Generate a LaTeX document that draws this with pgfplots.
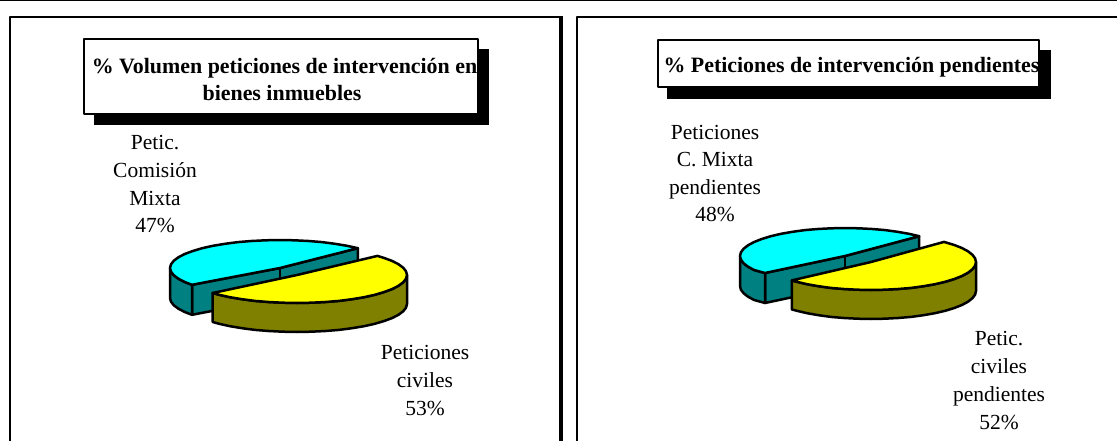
\documentclass[border=0pt]{standalone}
\usepackage{pgfplots}
\pgfplotsset{compat=1.18}
\usepackage{fontspec}
\setmainfont{Liberation Serif}
\definecolor{pcyan}{RGB}{0,255,255}
\definecolor{pteal}{RGB}{0,128,128}
\definecolor{pyellow}{RGB}{255,255,0}
\definecolor{polive}{RGB}{128,128,0}
\newcommand{\lab}[3]{\node[anchor=base,inner sep=0pt,text=black,font=\fontsize{21.5}{25}\selectfont] at (axis cs:#1,#2) {#3};}
\newcommand{\ttl}[3]{\node[anchor=base,inner sep=0pt,text=black,font=\fontsize{21.9}{25}\selectfont\bfseries] at (axis cs:#1,#2) {#3};}
\begin{document}
\begin{tikzpicture}
\begin{axis}[
  scale only axis, width=1117pt, height=441pt,
  xmin=0, xmax=1117, ymin=0, ymax=441, y dir=reverse,
  hide axis, clip=true,
  every axis plot/.append style={line join=round, line cap=butt, mark=none},
]
% frame
\addplot[black,line width=1.5pt] coordinates {(0,0.5) (1117,0.5)};
\addplot[black,line width=2pt] coordinates {(10,441) (10,17) (561,17)};
\addplot[black,line width=4pt] coordinates {(561,16) (561,441)};
\addplot[black,line width=2pt] coordinates {(577,441) (577,17) (1117,17)};
% title boxes
\addplot[fill=black,draw=none] coordinates {(94,49.5) (488.5,49.5) (488.5,125) (94,125)} -- cycle;
\addplot[fill=white,draw=black,line width=2pt] coordinates {(84,39.5) (478,39.5) (478,114.5) (84,114.5)} -- cycle;
\addplot[fill=black,draw=none] coordinates {(667,50) (1050.5,50) (1050.5,98.7) (667,98.7)} -- cycle;
\addplot[fill=white,draw=black,line width=2pt] coordinates {(657.7,40) (1039,40) (1039,87) (657.7,87)} -- cycle;
\ttl{284.5}{73.3}{\% Volumen peticiones de intervención en}
\ttl{282}{100.7}{bienes inmuebles}
\ttl{851.5}{72.7}{\% Peticiones de intervención pendientes}
% pie 1: cut faces, outer wall, top of the smaller slice
\addplot[fill=pteal,draw=black,line width=2.5pt] coordinates {(192,284.8) (280,268) (357.8,248.2) (357.8,278.2) (280,298) (192,314.8)} -- cycle;
\addplot[draw=black,line width=2pt] coordinates {(280,268) (280,298)};
\addplot[fill=pteal,draw=black,line width=2.5pt] coordinates {(170,268) (171,271.7) (173.7,275.2) (178.4,278.7) (184.7,282) (192,284.8) (192,314.8) (184.7,312) (178.4,308.7) (173.7,305.2) (171,301.7) (170,298)} -- cycle;
\addplot[fill=pcyan,draw=black,line width=2.5pt] coordinates {(357.8,248.2) (347,245.8) (335,243.8) (322.1,242.1) (308.5,241) (294.4,240.3) (280,240) (265.6,240.3) (251.5,241) (237.9,242.1) (225,243.8) (213,245.8) (202.2,248.2) (192.8,251) (184.7,254) (178.4,257.3) (173.7,260.8) (171,264.3) (170,268) (171,271.7) (173.7,275.2) (178.4,278.7) (184.7,282) (192,284.8) (280,268)} -- cycle;
% pie 1: larger slice
\addplot[fill=polive,draw=black,line width=2.5pt] coordinates {(407,275) (406,278.7) (403.3,282.2) (398.6,285.7) (392.3,289) (384.2,292) (374.8,294.8) (364,297.2) (352,299.2) (339.1,300.9) (325.5,302) (311.4,302.7) (297,303) (282.6,302.7) (268.5,302) (254.9,300.9) (242,299.2) (230,297.2) (219.2,294.8) (212.7,293) (212.7,322) (219.2,323.8) (230,326.2) (242,328.2) (254.9,329.9) (268.5,331) (282.6,331.7) (297,332) (311.4,331.7) (325.5,331) (339.1,329.9) (352,328.2) (364,326.2) (374.8,323.8) (384.2,321) (392.3,318) (398.6,314.7) (403.3,311.2) (406,307.7) (407,304)} -- cycle;
\addplot[fill=pyellow,draw=black,line width=2.5pt] coordinates {(377.4,255.9) (384.2,258) (392.3,261) (398.6,264.3) (403.3,267.8) (406,271.3) (407,275) (406,278.7) (403.3,282.2) (398.6,285.7) (392.3,289) (384.2,292) (374.8,294.8) (364,297.2) (352,299.2) (339.1,300.9) (325.5,302) (311.4,302.7) (297,303) (282.6,302.7) (268.5,302) (254.9,300.9) (242,299.2) (230,297.2) (219.2,294.8) (212.7,293) (297,275)} -- cycle;
% pie 2: cut faces, outer wall, top of the smaller slice
\addplot[fill=pteal,draw=black,line width=2.5pt] coordinates {(765,273) (845,256) (919.2,236.2) (919.2,266.2) (845,286) (765,303)} -- cycle;
\addplot[draw=black,line width=2pt] coordinates {(845,256) (845,286)};
\addplot[fill=pteal,draw=black,line width=2.5pt] coordinates {(740,256) (740.9,259.7) (743.6,263.2) (748,266.7) (754.1,270) (765,273) (765,303) (754.1,300) (748,296.7) (743.6,293.2) (740.9,289.7) (740,286)} -- cycle;
\addplot[fill=pcyan,draw=black,line width=2.5pt] coordinates {(919.2,236.2) (908.9,233.8) (897.5,231.8) (885.2,230.1) (872.2,229) (858.8,228.3) (845,228) (831.2,228.3) (817.8,229) (804.8,230.1) (792.5,231.8) (781.1,233.8) (770.8,236.2) (761.7,239) (754.1,242) (748,245.3) (743.6,248.8) (740.9,252.3) (740,256) (740.9,259.7) (743.6,263.2) (748,266.7) (754.1,270) (765,273) (845,256)} -- cycle;
% pie 2: larger slice
\addplot[fill=polive,draw=black,line width=2.5pt] coordinates {(976,262) (975.1,265.7) (972.4,269.2) (968,272.7) (961.9,276) (954.3,279) (945.2,281.8) (934.9,284.2) (923.5,286.2) (911.2,287.9) (898.2,289) (884.8,289.7) (871,290) (857.2,289.7) (843.8,289) (830.8,287.9) (818.5,286.2) (807.1,284.2) (796.8,281.8) (791.8,280.4) (791.8,309.4) (796.8,310.8) (807.1,313.2) (818.5,315.2) (830.8,316.9) (843.8,318) (857.2,318.7) (871,319) (884.8,318.7) (898.2,318) (911.2,316.9) (923.5,315.2) (934.9,313.2) (945.2,310.8) (954.3,308) (961.9,305) (968,301.7) (972.4,298.2) (975.1,294.7) (976,291)} -- cycle;
\addplot[fill=pyellow,draw=black,line width=2.5pt] coordinates {(944,241.9) (954.3,245) (961.9,248) (968,251.3) (972.4,254.8) (975.1,258.3) (976,262) (975.1,265.7) (972.4,269.2) (968,272.7) (961.9,276) (954.3,279) (945.2,281.8) (934.9,284.2) (923.5,286.2) (911.2,287.9) (898.2,289) (884.8,289.7) (871,290) (857.2,289.7) (843.8,289) (830.8,287.9) (818.5,286.2) (807.1,284.2) (796.8,281.8) (791.8,280.4) (871,262)} -- cycle;
% labels
\lab{155}{150}{Petic.}
\lab{155}{177.7}{Comisión}
\lab{155}{205}{Mixta}
\lab{155}{232.5}{47\%}
\lab{425}{359.5}{Peticiones}
\lab{425}{387}{civiles}
\lab{425}{415}{53\%}
\lab{715}{139.5}{Peticiones}
\lab{715}{167}{C. Mixta}
\lab{715}{194.5}{pendientes}
\lab{715}{222}{48\%}
\lab{999}{345}{Petic.}
\lab{999}{373}{civiles}
\lab{999}{401}{pendientes}
\lab{999}{429}{52\%}
\end{axis}
\end{tikzpicture}
\end{document}
